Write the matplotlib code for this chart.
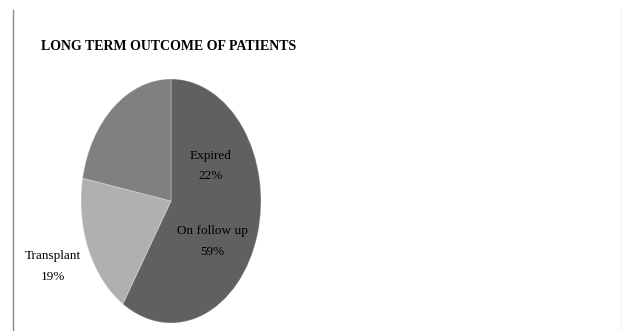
import matplotlib
matplotlib.use("Agg")
import matplotlib.pyplot as plt
from matplotlib.lines import Line2D

categories = ["On follow up", "Transplant", "Expired"]
values = [59, 19, 22]
colors = ["#606060", "#b0b0b0", "#808080"]
title = "LONG TERM OUTCOME OF PATIENTS"

W, H = 623, 331
fig = plt.figure(figsize=(W / 100, H / 100), dpi=100)
fig.patch.set_facecolor("white")

# pie bounding box in pixels (left, top, right, bottom)
L, T, R, B = 81, 79, 261, 323
ax = fig.add_axes([L / W, (H - B) / H, (R - L) / W, (B - T) / H])
wedges, _ = ax.pie(values, colors=colors, startangle=90, counterclock=False,
                   radius=1.0, center=(0, 0),
                   wedgeprops=dict(edgecolor=(1, 1, 1, 0.25), linewidth=0.8))
ax.set_aspect("auto")
ax.set_xlim(-1, 1)
ax.set_ylim(-1, 1)
ax.axis("off")

serif = ["Liberation Serif", "DejaVu Serif"]

def px(x, y):
    return x / W, 1 - y / H

# labels
label_pos = {"Expired": (211, 166), "On follow up": (212, 241.5), "Transplant": (53, 266.5)}
for cat, val in zip(categories, values):
    x, y = label_pos[cat]
    fig.text(*px(x, y), f"{cat}\n{val}%", ha="center", va="center",
             fontsize=9.5, family=serif, color="black", linespacing=1.95)

fig.text(*px(41, 46), title, ha="left", va="center", fontsize=10,
         fontweight="bold", family=serif, color="black")

# left border line and faint right edge
fig.add_artist(Line2D([13 / W, 13 / W], [0, 1 - 10 / H], transform=fig.transFigure,
                      color="#8a8a8a", linewidth=1.0))
fig.add_artist(Line2D([621 / W, 621 / W], [0, 1 - 10 / H], transform=fig.transFigure,
                      color="#f2f2f2", linewidth=1.0))

fig.savefig("out.png", dpi=100, facecolor="white")
